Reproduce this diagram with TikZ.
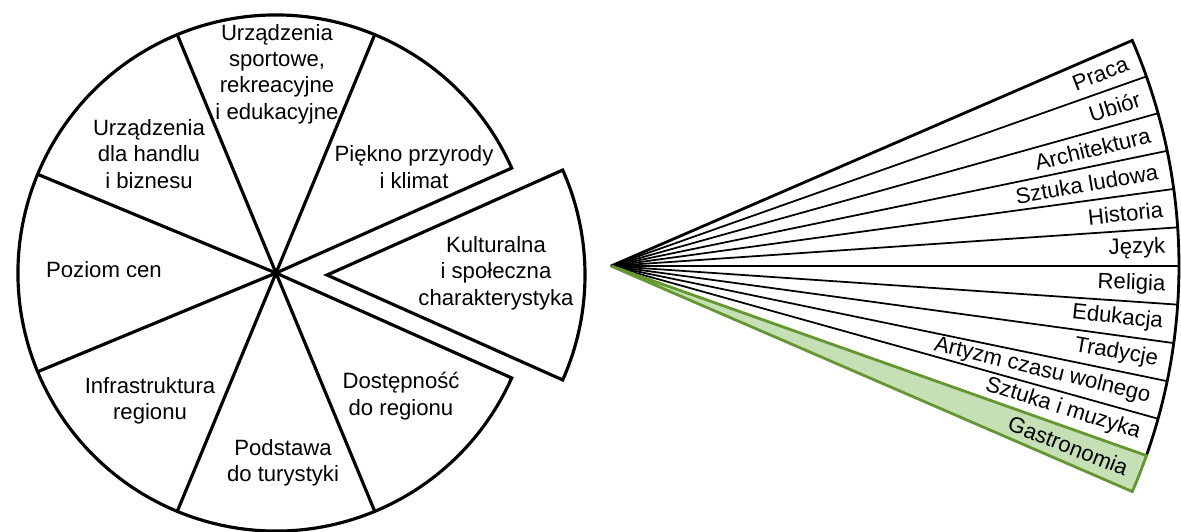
\documentclass[tikz,border=0pt]{standalone}
\usepackage{fontspec}
\setmainfont{Liberation Sans}
\usepackage{xcolor}
\usetikzlibrary{positioning,calc}
\definecolor{gastrofill}{HTML}{C5E0B4}
\definecolor{gastroline}{HTML}{649632}
\tikzset{%
sector/.style={draw,line width=1.8pt,line join=miter},
fanedge/.style={draw,line width=1.6pt,line join=miter},
fanline/.style={draw,line width=1pt},
gastro/.style={draw=gastroline,fill=gastrofill,line width=1.6pt,line join=miter},
seclabel/.style={align=center,inner sep=0,font=\fontsize{12.6}{15}\selectfont},
fanlabel/.style={anchor=east,inner sep=0,font=\fontsize{12.6}{15}\selectfont}
}

\begin{document}
\begin{tikzpicture}

  \useasboundingbox (0,0) rectangle (23.62,-10.62);

  % pie
  \coordinate (C) at (5.52,-5.46);
  \coordinate (K) at (6.54,-5.50);
  \draw[sector] (C) -- ++(24:5.16) arc[start angle=24,end angle=336,radius=5.16] -- cycle;
  \draw[sector] (C) -- ++(67.5:5.16);
  \draw[sector] (C) -- ++(112.5:5.16);
  \draw[sector] (C) -- ++(157.5:5.16);
  \draw[sector] (C) -- ++(202.5:5.16);
  \draw[sector] (C) -- ++(247.5:5.16);
  \draw[sector] (C) -- ++(292.5:5.16);
  \draw[sector] (K) -- ++(-24:5.16) arc[start angle=-24,end angle=24,radius=5.16] -- cycle;

  \node[seclabel] (sport) at (5.54,-1.48) {Urządzenia\\sportowe,\\rekreacyjne\\i edukacyjne};
  \node[seclabel] (handel) at (2.98,-3.08) {Urządzenia\\dla handlu\\i biznesu};
  \node[seclabel] (piekno) at (8.28,-3.34) {Piękno przyrody\\i klimat};
  \node[seclabel] (ceny) at (2.08,-5.40) {Poziom cen};
  \node[seclabel] (kultura) at (9.92,-5.46) {Kulturalna\\i społeczna\\charakterystyka};
  \node[seclabel] (infra) at (3.00,-8.02) {Infrastruktura\\regionu};
  \node[seclabel] (dostep) at (8.02,-7.92) {Dostępność\\do regionu};
  \node[seclabel] (podstawa) at (5.66,-9.26) {Podstawa\\do turystyki};

  % fan
  \coordinate (F) at (12.22,-5.32);
  \draw[fanedge] (F) -- ++(23.4:11.36) arc[start angle=23.4,end angle=-19.5,radius=11.36];
  \draw[fanline] (F) -- ++(19.5:11.36);
  \draw[fanline] (F) -- ++(15.6:11.36);
  \draw[fanline] (F) -- ++(11.7:11.36);
  \draw[fanline] (F) -- ++(7.8:11.36);
  \draw[fanline] (F) -- ++(3.9:11.36);
  \draw[fanline,line width=1.4pt] (F) -- ++(0:11.36);
  \draw[fanline] (F) -- ++(-3.9:11.36);
  \draw[fanline] (F) -- ++(-7.8:11.36);
  \draw[fanline] (F) -- ++(-11.7:11.36);
  \draw[fanline] (F) -- ++(-15.6:11.36);
  \draw[gastro] (F) -- ++(-23.4:11.36) arc[start angle=-23.4,end angle=-19.5,radius=11.36] -- cycle;

  \node[fanlabel,rotate=21.45] (praca) at ($(F)+(21.45:11.1)$) {Praca};
  \node[fanlabel,rotate=17.55] (ubior) at ($(F)+(17.55:11.1)$) {Ubiór};
  \node[fanlabel,rotate=13.65] (archi) at ($(F)+(13.65:11.1)$) {Architektura};
  \node[fanlabel,rotate=9.75] (ludowa) at ($(F)+(9.75:11.1)$) {Sztuka ludowa};
  \node[fanlabel,rotate=5.85] (historia) at ($(F)+(5.85:11.1)$) {Historia};
  \node[fanlabel,rotate=1.95] (jezyk) at ($(F)+(1.95:11.1)$) {Język};
  \node[fanlabel,rotate=-1.95] (religia) at ($(F)+(-1.95:11.1)$) {Religia};
  \node[fanlabel,rotate=-5.85] (edukacja) at ($(F)+(-5.85:11.1)$) {Edukacja};
  \node[fanlabel,rotate=-9.75] (tradycje) at ($(F)+(-9.75:11.1)$) {Tradycje};
  \node[fanlabel,rotate=-13.65] (artyzm) at ($(F)+(-13.65:11.1)$) {Artyzm czasu wolnego};
  \node[fanlabel,rotate=-17.55] (muzyka) at ($(F)+(-17.55:11.1)$) {Sztuka i muzyka};
  \node[fanlabel,rotate=-21.45] (gastronomia) at ($(F)+(-21.45:11.1)$) {Gastronomia};

\end{tikzpicture}
\end{document}
